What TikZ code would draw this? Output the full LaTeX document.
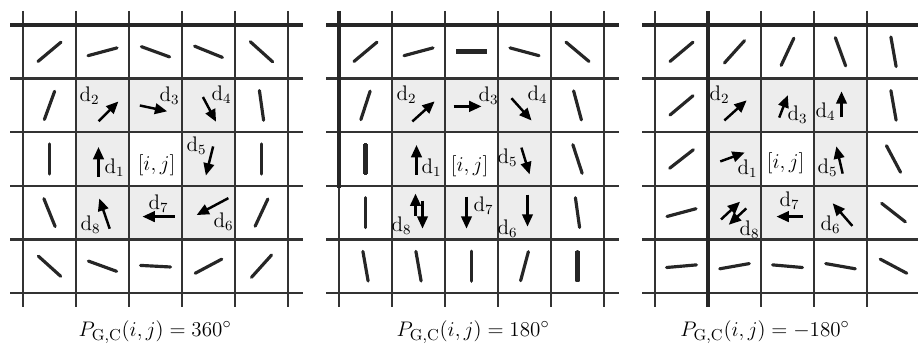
\documentclass[tikz,border=0pt]{standalone}
\usetikzlibrary{arrows.meta,calc}
\newcommand\orientseg[2]{\draw[orient] ($(#1)+(#2:15)$) -- ($(#1)-(#2:15)$);}
\newcommand\flowarrow[5]{\draw[flow] ($(#1)+(#2,#3)-(#4:#5)$) -- ($(#1)+(#2,#3)+(#4:#5)$);}
\begin{document}
\begin{tikzpicture}[x=0.02cm,y=0.02cm,
  gridline/.style={line width=1.3pt,black!80},
  boldline/.style={line width=2.2pt,black!85},
  orient/.style={line width=1.8pt,line cap=round,black!85},
  flow/.style={line width=1.4pt,black,-{Triangle[length=7pt,width=6pt]}},
  dlab/.style={inner sep=0pt,font=\large},
  caption/.style={font=\fontsize{13}{15}\selectfont}]
  \useasboundingbox (0,0) rectangle (918,344);
  % shading and cell centres
  \foreach \g/\xo in {1/23,2/339,3/655}{
    \fill[black!7] (\xo+53,265.4) rectangle (\xo+212,104.6);
    \fill[white] (\xo+106,211.8) rectangle (\xo+159,158.2);
    \foreach \c in {1,...,5}
      \foreach \r in {1,...,5}
        \coordinate (g\g-\c-\r) at (\xo+\c*53-26.5, 345.8-\r*53.6);
  }
  % grid lines
  \foreach \xo in {23,339,655}{
    \foreach \k in {1,...,5}
      \draw[gridline] (\xo-13,319-\k*53.6) -- (\xo+280,319-\k*53.6);
    \foreach \k in {0,...,5}
      \draw[gridline] (\xo+\k*53,333) -- (\xo+\k*53,37);
    \draw[boldline] (\xo-13,319) -- (\xo+280,319);
  }
  \draw[boldline] (339,333) -- (339,156);
  \draw[boldline] (708,333) -- (708,37);
  % orientation of the outer cells
  \foreach \g/\c/\r/\a in {1/1/1/40,1/2/1/15,1/3/1/-20,1/4/1/-22,1/5/1/-42,
      1/1/2/70,1/5/2/-82,1/1/3/90,1/5/3/90,1/1/4/-68,1/5/4/65,
      1/1/5/-42,1/2/5/-20,1/3/5/-3,1/4/5/28,1/5/5/48,
      2/1/1/40,2/2/1/15,2/4/1/-15,2/5/1/-40,
      2/1/2/72,2/5/2/-75,2/5/3/-72,2/1/4/90,2/5/4/-82,
      2/1/5/-80,2/2/5/-80,2/3/5/90,2/4/5/75,
      3/1/1/40,3/2/1/48,3/3/1/65,3/4/1/-70,3/5/1/-80,
      3/1/2/40,3/5/2/-80,3/1/3/38,3/5/3/-62,3/1/4/15,3/5/4/-38,
      3/1/5/5,3/2/5/10,3/3/5/-5,3/4/5/-10,3/5/5/-28}
    \orientseg{g\g-\c-\r}{\a}
  \foreach \c/\r/\a in {3/1/0,1/3/90,5/5/90}
    \draw[orient,line width=2.8pt] ($(g2-\c-\r)+(\a:13)$) -- ($(g2-\c-\r)-(\a:13)$);
  % grid 1
  \flowarrow{g1-2-2}{6}{-6}{45}{14}
  \flowarrow{g1-3-2}{-2}{-3}{-12}{14}
  \flowarrow{g1-4-2}{1}{-4}{-62}{14}
  \flowarrow{g1-2-3}{-4}{-3}{90}{15}
  \flowarrow{g1-4-3}{1}{-2}{-104}{15}
  \flowarrow{g1-2-4}{2}{-1}{109}{16}
  \flowarrow{g1-3-4}{3}{-4}{180}{16}
  \flowarrow{g1-4-4}{4}{6}{208}{18}
  \node[dlab] (g1-d1) at ($(g1-2-3)+(12,-9)$) {d$_1$};
  \node[dlab] (g1-d2) at ($(g1-2-2)+(-13,10)$) {d$_2$};
  \node[dlab] (g1-d3) at ($(g1-3-2)+(14,10)$) {d$_3$};
  \node[dlab] (g1-d4) at ($(g1-4-2)+(13,11)$) {d$_4$};
  \node[dlab] (g1-d5) at ($(g1-4-3)+(-12,13)$) {d$_5$};
  \node[dlab] (g1-d6) at ($(g1-4-4)+(15,-9)$) {d$_6$};
  \node[dlab] (g1-d7) at ($(g1-3-4)+(3,9)$) {d$_7$};
  \node[dlab] (g1-d8) at ($(g1-2-4)+(-12,-12)$) {d$_8$};
  \node[dlab] (g1-ij) at ($(g1-3-3)+(1,-6)$) {$[i,j]$};
  % grid 2
  \flowarrow{g2-2-2}{5}{-6}{42}{15}
  \flowarrow{g2-3-2}{-4}{-1}{0}{14}
  \flowarrow{g2-4-2}{-3}{-4}{-48}{15}
  \flowarrow{g2-2-3}{-2}{-1}{90}{15}
  \flowarrow{g2-4-3}{1}{-2}{-73}{14}
  \flowarrow{g2-2-4}{-3}{8}{90}{11}
  \flowarrow{g2-2-4}{4}{-2}{-90}{14}
  \flowarrow{g2-3-4}{-5}{0}{-90}{16}
  \flowarrow{g2-4-4}{3}{2}{-90}{16}
  \node[dlab] (g2-d1) at ($(g2-2-3)+(13,-9)$) {d$_1$};
  \node[dlab] (g2-d2) at ($(g2-2-2)+(-12,11)$) {d$_2$};
  \node[dlab] (g2-d3) at ($(g2-3-2)+(17,10)$) {d$_3$};
  \node[dlab] (g2-d4) at ($(g2-4-2)+(13,11)$) {d$_4$};
  \node[dlab] (g2-d5) at ($(g2-4-3)+(-17,1)$) {d$_5$};
  \node[dlab] (g2-d6) at ($(g2-4-4)+(-17,-16)$) {d$_6$};
  \node[dlab] (g2-d7) at ($(g2-3-4)+(12,7)$) {d$_7$};
  \node[dlab] (g2-d8) at ($(g2-2-4)+(-17,-13)$) {d$_8$};
  \node[dlab] (g2-ij) at ($(g2-3-3)+(-2,-7)$) {$[i,j]$};
  % grid 3
  \flowarrow{g3-2-2}{1}{-5}{42}{15}
  \flowarrow{g3-3-2}{-4}{-1}{69}{12}
  \flowarrow{g3-4-2}{1}{1}{90}{13}
  \flowarrow{g3-2-3}{-2}{2}{20}{13}
  \flowarrow{g3-4-3}{-1}{-1}{103}{14}
  \flowarrow{g3-2-4}{-4}{2}{43}{13}
  \flowarrow{g3-2-4}{3}{-4}{223}{12}
  \flowarrow{g3-3-4}{2}{-4}{180}{13}
  \flowarrow{g3-4-4}{2}{-2}{131}{15}
  \node[dlab] (g3-d1) at ($(g3-2-3)+(13,-10)$) {d$_1$};
  \node[dlab] (g3-d2) at ($(g3-2-2)+(-15,11)$) {d$_2$};
  \node[dlab] (g3-d3) at ($(g3-3-2)+(10,-9)$) {d$_3$};
  \node[dlab] (g3-d4) at ($(g3-4-2)+(-15,-6)$) {d$_4$};
  \node[dlab] (g3-d5) at ($(g3-4-3)+(-13,-9)$) {d$_5$};
  \node[dlab] (g3-d6) at ($(g3-4-4)+(-10,-12)$) {d$_6$};
  \node[dlab] (g3-d7) at ($(g3-3-4)+(2,12)$) {d$_7$};
  \node[dlab] (g3-d8) at ($(g3-2-4)+(15,-17)$) {d$_8$};
  \node[dlab] (g3-ij) at ($(g3-3-3)+(-2,-4)$) {$[i,j]$};
  % captions
  \node[caption] (cap1) at (155,12) {$P_{\mathrm{G,C}}(i,j) = 360^{\circ}$};
  \node[caption] (cap2) at (473,12) {$P_{\mathrm{G,C}}(i,j) = 180^{\circ}$};
  \node[caption] (cap3) at (765,12) {$P_{\mathrm{G,C}}(i,j) = -180^{\circ}$};
\end{tikzpicture}
\end{document}
